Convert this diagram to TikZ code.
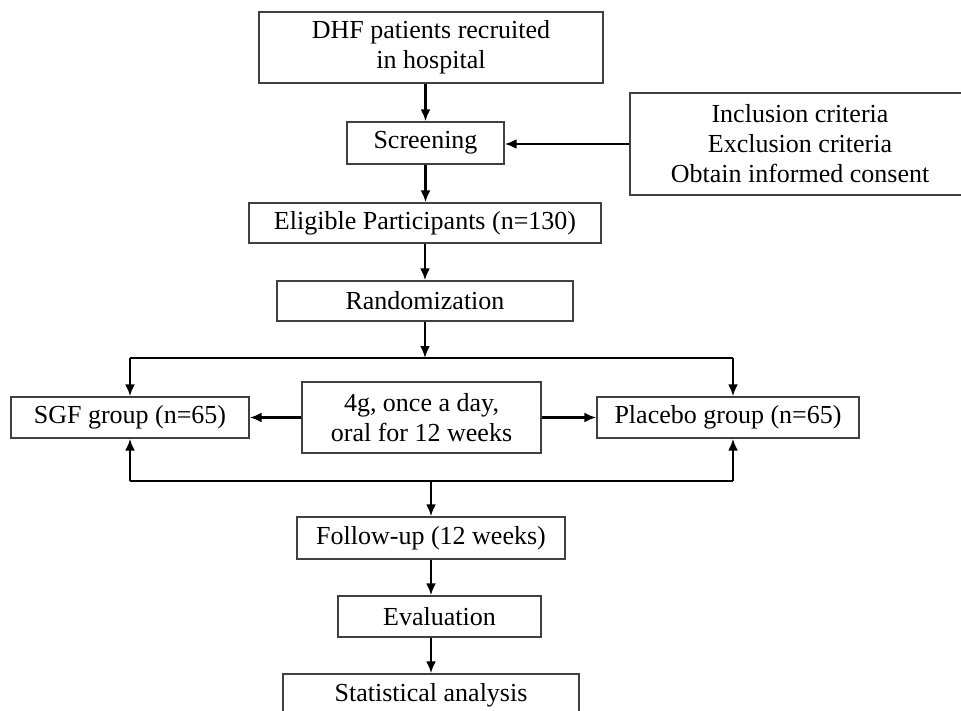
\documentclass[tikz,border=0pt]{standalone}
\usepackage{fontspec}
\setmainfont{Liberation Serif}
\usetikzlibrary{arrows.meta,calc}

\begin{document}
\begin{tikzpicture}[x=1pt,y=-1pt,
  box/.style={draw=black!75,line width=1.4pt,align=center,inner sep=0pt,
    font=\fontsize{26}{30}\selectfont},
  arr/.style={line width=2.4pt,-{Latex[length=12pt,width=10pt]}},
  conn/.style={line width=2.4pt}]
\useasboundingbox (0,0) rectangle (961,711);

% boxes
\node[box,minimum width=344,minimum height=71] (dhf) at (431,47.5) {DHF patients recruited\\in hospital};
\node[box,minimum width=157,minimum height=42] (screen) at (425.5,143) {Screening};
\node[box,minimum width=340,minimum height=102] (crit) at (800,144) {Inclusion criteria\\Exclusion criteria\\Obtain informed consent};
\node[box,minimum width=352,minimum height=40] (elig) at (425,223) {Eligible Participants (n=130)};
\node[box,minimum width=296,minimum height=40] (rand) at (425,301) {Randomization};
\node[box,minimum width=238,minimum height=41] (sgf) at (130,417.5) {SGF group (n=65)};
\node[box,minimum width=239,minimum height=71] (dose) at (421.5,417.5) {4g, once a day,\\oral for 12 weeks};
\node[box,minimum width=262,minimum height=41] (plac) at (728,417.5) {Placebo group (n=65)};
\node[box,minimum width=268,minimum height=42] (fu) at (431,538) {Follow-up (12 weeks)};
\node[box,minimum width=203,minimum height=41] (eval) at (439.5,616.5) {Evaluation};
\node[box,minimum width=296,minimum height=42] (stat) at (431,695) {Statistical analysis};

% junction lines
\coordinate (tl) at (130,358);
\coordinate (tr) at (733,358);
\coordinate (bl) at (130,481);
\coordinate (br) at (733,481);

% connectors
\draw[arr] (dhf.south -| screen) -- (screen.north);
\draw[arr] (crit.west) -- (crit.west -| screen.east);
\draw[arr] (screen.south) -- (screen.south |- elig.north);
\draw[arr] (elig.south) -- (rand.north);
\draw[arr] (rand.south) -- (rand.south |- tl);
\draw[conn] (tl) -- (tr);
\draw[arr] (tl) -- (sgf.north);
\draw[arr] (tr) -- (tr |- plac.north);
\draw[arr] (dose.west) -- (dose.west -| sgf.east);
\draw[arr] (dose.east) -- (dose.east -| plac.west);
\draw[conn] (bl) -- (br);
\draw[arr] (bl) -- (sgf.south);
\draw[arr] (br) -- (br |- plac.south);
\draw[arr] (fu.north |- bl) -- (fu.north);
\draw[arr] (fu.south) -- (fu.south |- eval.north);
\draw[arr] (fu.south |- eval.south) -- (fu.south |- stat.north);
\end{tikzpicture}
\end{document}
